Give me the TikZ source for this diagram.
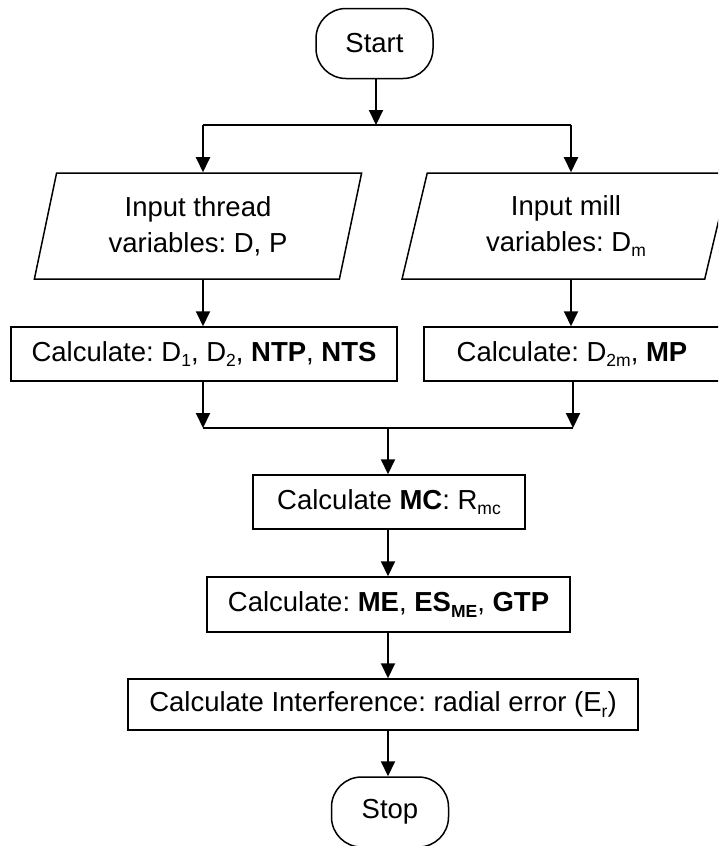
\documentclass[tikz,border=0pt]{standalone}
\usepackage{fontspec}
\setmainfont{Liberation Sans}
\usetikzlibrary{arrows.meta,shapes.geometric}
\newcommand\sbs[1]{\raisebox{-0.2em}{\fontsize{17.5}{17.5}\selectfont #1}}
\begin{document}
\frenchspacing
\begin{tikzpicture}[x=1pt,y=-1pt,
  every node/.style={font=\fontsize{27.5}{36}\selectfont, align=center, inner sep=0pt},
  box/.style={draw, line width=1.5pt, minimum width=#1, minimum height=54pt},
  term/.style={draw, line width=1.5pt, rounded corners=30pt, minimum width=117pt, minimum height=70pt},
  io/.style={draw, line width=1.5pt, trapezium, trapezium left angle=76.7, trapezium right angle=103.3,
             trapezium stretches=true, minimum width=328pt, minimum height=106pt},
  arr/.style={line width=2pt, -{Triangle[width=14pt,length=15pt]}},
  ln/.style={line width=2pt}]
\path[use as bounding box] (0,0) rectangle (718,846);
\clip (0,0) rectangle (718,846);

\node[term] (start) at (374.5,43.5) {Start};
\coordinate (j1c) at (376,125);
\coordinate (j1l) at (203,125);
\coordinate (j1r) at (571,125);

\node[io] (inl) at (198,226) {Input thread\\variables: D, P};
\node[io] (inr) at (566,226) {Input mill\\variables: D\sbs{m}};

\node[box=386pt] (cl) at (204,354) {Calculate: D\sbs{1}, D\sbs{2}, \textbf{NTP}, \textbf{NTS}};
\node[box=296pt] (cr) at (572,354) {Calculate: D\sbs{2m}, \textbf{MP}};

\coordinate (j2l) at (203,428);
\coordinate (j2r) at (573,428);
\coordinate (j2c) at (388,428);

\node[box=272pt] (mc) at (389,502) {Calculate \textbf{MC}: R\sbs{mc}};
\node[box=363pt, minimum height=55pt] (me) at (388.5,604.5) {Calculate: \textbf{ME}, \textbf{ES\sbs{ME}}, \textbf{GTP}};
\node[box=510pt, minimum height=51pt] (int) at (383,704.5) {Calculate Interference: radial error (E\sbs{r})};
\node[term] (stop) at (390,812) {Stop};

\draw[arr] (start.south -| j1c) -- (j1c);
\draw[ln] (j1l) -- (j1r);
\draw[arr] (j1l) -- (j1l |- inl.north);
\draw[arr] (j1r) -- (j1r |- inr.north);
\draw[arr] (inl.south -| j1l) -- (j1l |- cl.north);
\draw[arr] (inr.south -| j1r) -- (j1r |- cr.north);
\draw[arr] (cl.south -| j2l) -- (j2l);
\draw[arr] (cr.south -| j2r) -- (j2r);
\draw[ln] (j2l) -- (j2r);
\draw[arr] (j2c) -- (j2c |- mc.north);
\draw[arr] (mc.south -| j2c) -- (j2c |- me.north);
\draw[arr] (me.south -| j2c) -- (j2c |- int.north);
\draw[arr] (int.south -| j2c) -- (j2c |- stop.north);
\end{tikzpicture}
\end{document}
